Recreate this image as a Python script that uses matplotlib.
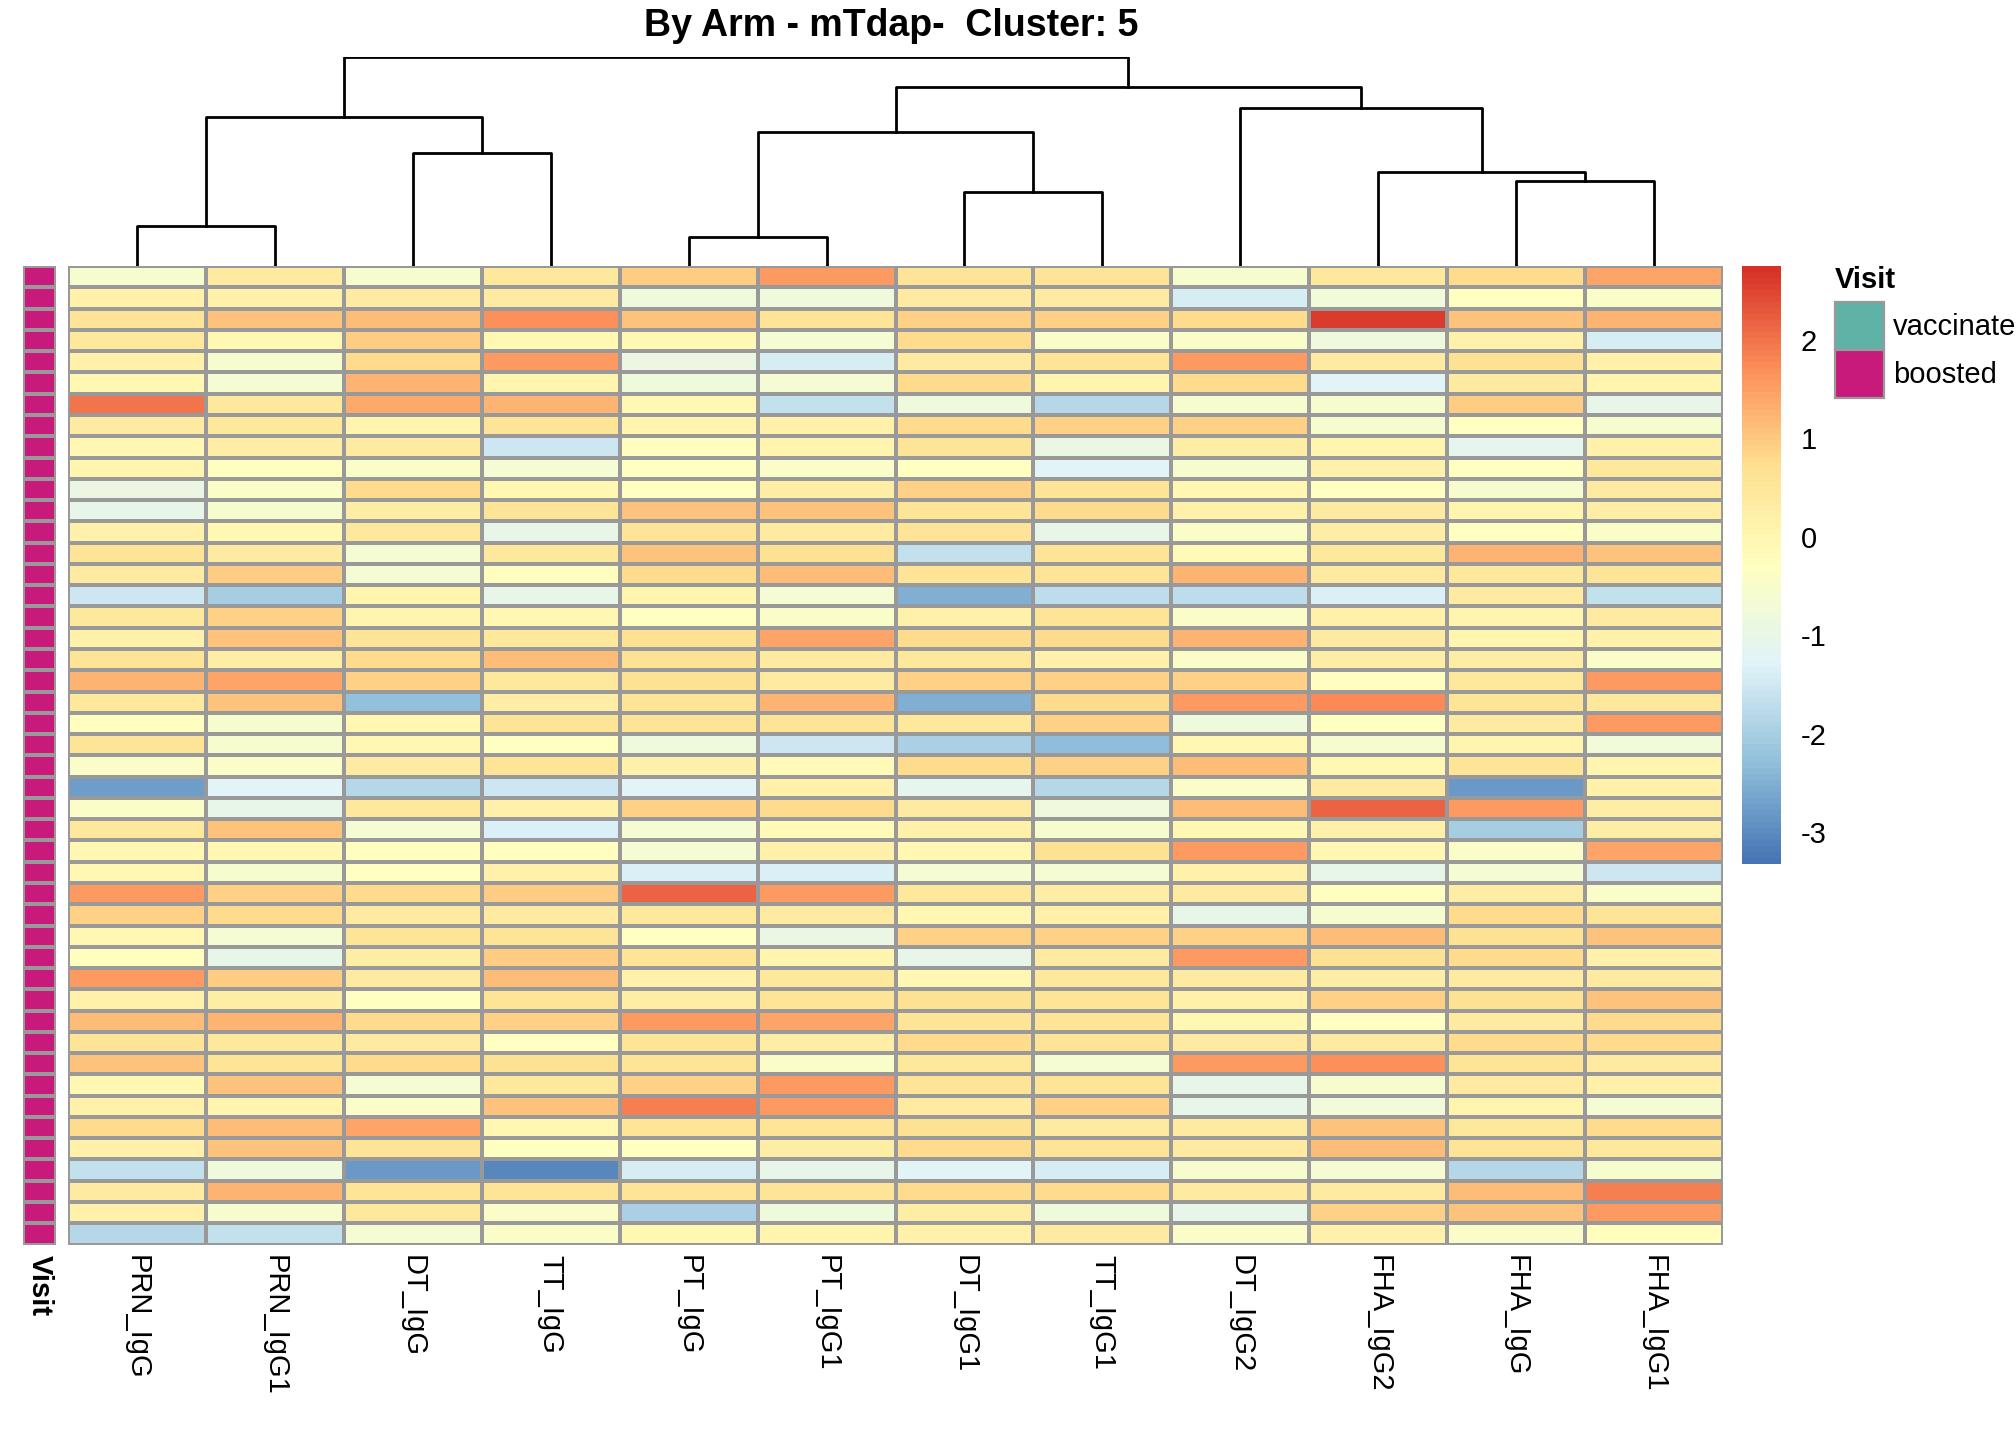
import numpy as np
import matplotlib
matplotlib.use('Agg')
import matplotlib.pyplot as plt
from matplotlib.colors import LinearSegmentedColormap, Normalize

plt.rcParams['font.family'] = ['Liberation Sans', 'DejaVu Sans']

columns = ['PRN_IgG', 'PRN_IgG1', 'DT_IgG', 'TT_IgG', 'PT_IgG', 'PT_IgG1',
           'DT_IgG1', 'TT_IgG1', 'DT_IgG2', 'FHA_IgG2', 'FHA_IgG', 'FHA_IgG1']

values = np.array([
    [-0.5, 0.4, -0.5, 0.5, 1.0, 1.6, 0.6, 0.6, -0.5, 0.5, 0.8, 1.5],
    [0.2, 0.2, 0.4, 0.4, -0.8, -0.8, 0.4, 0.4, -1.4, -0.7, -0.3, -0.4],
    [0.6, 1.1, 1.2, 1.7, 1.1, 0.6, 0.9, 0.9, 0.8, 2.6, 1.1, 1.3],
    [0.5, 0.0, 1.0, 0.0, 0.0, -0.6, 0.8, -0.4, -0.4, -0.8, 0.2, -1.4],
    [0.2, -0.5, 0.8, 1.6, -0.9, -1.4, 0.4, 0.6, 1.6, 0.4, 0.7, 0.2],
    [0.0, -0.6, 1.3, 0.1, -0.8, -0.6, 0.8, 0.1, 0.8, -1.2, 0.4, 0.1],
    [2.0, 0.5, 1.4, 1.3, 0.0, -1.6, -0.8, -1.8, -0.5, -0.5, 1.0, -1.0],
    [0.4, 0.5, 0.1, 0.6, 0.1, 0.2, 0.8, 0.9, 0.9, -0.5, -0.3, -0.5],
    [0.0, 0.3, 0.4, -1.5, -0.2, 0.1, 0.6, -0.9, 0.3, 0.1, -1.1, 0.2],
    [0.1, -0.2, -0.4, -0.6, -0.3, -0.4, -0.3, -1.2, -0.5, 0.2, -0.3, 0.5],
    [-0.9, -0.4, 0.8, 0.0, -0.3, 0.3, 0.9, 0.6, 0.0, -0.3, -0.5, 0.4],
    [-1.0, -0.5, 0.3, 0.6, 1.1, 1.1, 0.6, 0.8, 0.2, 0.4, 0.1, 0.3],
    [0.2, 0.0, 0.5, -1.0, 0.6, 0.4, 0.6, -1.0, -0.4, 0.3, -0.3, -0.4],
    [0.6, 0.4, -0.6, 0.5, 1.1, 0.7, -1.6, 0.6, -0.1, 0.5, 1.3, 1.1],
    [0.4, 1.0, -0.6, -0.2, 0.8, 1.2, 0.6, 0.6, 1.3, 0.4, 0.5, 0.6],
    [-1.5, -2.0, 0.1, -1.0, 0.1, -0.6, -2.5, -1.7, -1.7, -1.3, 0.4, -1.6],
    [0.5, 0.9, 0.1, 0.0, -0.3, -0.4, 0.2, 0.6, -0.4, 0.2, 0.1, 0.4],
    [0.2, 1.1, 0.6, 0.5, 0.7, 1.5, 0.8, 0.8, 1.3, 0.4, 0.1, 0.2],
    [0.6, 0.3, 0.8, 1.2, 0.7, 0.4, 0.5, 0.2, -0.4, 0.3, 0.3, -0.4],
    [1.3, 1.5, 0.9, 0.5, 0.7, 0.4, 0.9, 0.9, 0.9, -0.2, 0.5, 1.6],
    [0.5, 1.1, -2.2, 0.3, 0.6, 1.3, -2.5, 0.8, 1.6, 1.8, 0.6, 0.5],
    [-0.2, -0.5, 0.0, 0.6, 0.6, 0.6, 0.5, 0.9, -0.8, -0.3, 0.4, 1.6],
    [0.6, -0.5, 0.0, -0.3, -0.8, -1.5, -1.9, -2.3, 0.0, -0.5, 0.1, -0.7],
    [-0.4, -0.4, 0.4, 0.6, 0.2, -0.1, 0.8, 0.9, 1.2, 0.0, 0.6, 0.1],
    [-2.7, -1.2, -1.8, -1.5, -1.2, 0.2, -1.1, -1.8, -0.4, 0.4, -2.8, 0.2],
    [-0.4, -1.0, 0.5, 0.2, 0.9, 0.8, 0.4, -0.8, 1.2, 2.2, 1.6, 0.3],
    [0.5, 1.1, -0.6, -1.3, -0.6, -0.1, 0.2, -0.5, 0.0, 0.2, -2.0, 0.3],
    [0.0, 0.0, -0.2, -0.2, -0.6, 0.2, 0.0, 0.7, 1.6, 0.0, -0.4, 1.5],
    [0.0, -0.5, -0.3, 0.2, -1.3, -1.3, -0.6, -0.6, 0.2, -1.0, -0.6, -1.5],
    [1.6, 0.9, 0.8, 1.0, 2.2, 1.6, 0.5, 0.3, 0.4, -0.2, 0.3, -0.4],
    [0.9, 0.8, 0.4, 0.4, 0.5, 0.4, 0.0, 0.2, -1.0, -0.5, 0.8, 0.6],
    [0.0, -0.6, 0.6, 0.6, -0.3, -0.9, 0.9, 0.9, 0.9, 1.2, 0.7, 1.1],
    [-0.2, -1.0, 0.3, 1.0, 0.6, 0.1, -1.0, 0.4, 1.6, 0.7, 0.8, 0.2],
    [1.6, 1.0, 0.4, 1.2, 0.2, 0.5, 0.0, 0.5, 0.4, 0.3, 0.4, 0.4],
    [0.2, 0.3, -0.3, 0.6, 0.3, 0.6, 0.7, 0.6, 0.2, 0.9, 0.7, 1.1],
    [1.2, 1.3, 0.8, 0.9, 1.6, 1.5, 0.6, 0.6, 0.0, -0.3, 0.4, 0.8],
    [0.6, 0.5, 0.4, -0.3, 0.6, 0.3, 0.8, 0.6, 0.4, 0.4, 0.8, 0.8],
    [1.1, 0.6, 0.8, 0.7, 0.6, -0.4, 0.5, -0.6, 1.6, 1.7, 0.6, 0.4],
    [0.0, 1.1, -0.6, 0.5, 0.9, 1.6, 0.6, 0.6, -1.0, -0.5, 0.4, 0.2],
    [0.2, 0.1, -0.4, 1.1, 1.9, 1.6, 0.4, 0.9, -1.0, -0.7, 0.1, -0.6],
    [0.8, 1.2, 1.5, 0.0, 0.6, 0.6, 0.7, 0.4, 0.4, 1.1, 0.5, 0.8],
    [0.2, 1.1, 0.6, -0.3, -0.3, 0.3, 0.8, 0.6, 0.4, 1.2, 0.6, 0.5],
    [-1.6, -0.8, -2.8, -3.0, -1.4, -1.0, -1.2, -1.4, -0.5, -0.6, -1.8, -0.5],
    [0.4, 1.3, 0.6, 0.6, 0.6, 0.6, 0.8, 0.8, 0.4, 0.4, 1.2, 1.9],
    [0.2, -0.5, 0.5, -0.4, -1.9, -0.8, 0.3, -0.8, -1.0, 0.9, 1.1, 1.6],
    [-1.8, -1.6, -0.6, -0.4, 0.0, 0.1, 0.2, 0.4, -0.4, 0.2, -0.4, -0.2],
])

# column merges: (left, right, height); ids >= 12 refer to earlier merges
merges = [(0, 1, 31), (2, 3, 88), (12, 13, 116),
          (4, 5, 23), (6, 7, 58), (15, 16, 104),
          (10, 11, 66), (9, 18, 73), (8, 19, 123),
          (17, 20, 139), (14, 21, 163)]

visit_levels = ['vaccinated', 'boosted']
visit_colors = ['#5FB3A6', '#C71A7A']

cmap = LinearSegmentedColormap.from_list('rdylbu', ['#4575B4', '#91BFDB', '#E0F3F8', '#FFFFBF',
                                                    '#FEE090', '#FC8D59', '#D73027'], N=100)
vmin, vmax = -3.29, 2.78
norm = Normalize(vmin, vmax)
nrow, ncol = values.shape

H = 1120.0
fig = plt.figure(figsize=(20.16, 14.4), dpi=100)
L, R = 0.0338, 0.8546
B, T = 1 - 968 / H, 1 - 207 / H

ax = fig.add_axes([L, B, R - L, T - B])
ax.pcolormesh(values, cmap=cmap, norm=norm, edgecolors='#999999', linewidth=1.6)
ax.set_xlim(0, ncol)
ax.set_ylim(nrow, 0)
ax.axis('off')
for j, c in enumerate(columns):
    ax.text(j + 0.5, nrow + 0.5, c, rotation=270, ha='center', va='top', fontsize=21)

# annotation bar
aa = fig.add_axes([0.0115, B, 0.028 - 0.0115, T - B])
aa.pcolormesh(np.ones((nrow, 1)), cmap=LinearSegmentedColormap.from_list('v', visit_colors),
              vmin=0, vmax=1, edgecolors='#999999', linewidth=1.6)
aa.set_xlim(0, 1)
aa.set_ylim(nrow, 0)
aa.axis('off')
aa.text(0.5, nrow + 0.5, 'Visit', rotation=270, ha='center', va='top', fontsize=21, fontweight='bold')

# dendrogram
ad = fig.add_axes([L, T, R - L, (207 - 44) / H])
pos = {i: i + 0.5 for i in range(ncol)}
hgt = {i: 0 for i in range(ncol)}
for k, (a, b, h) in enumerate(merges):
    ad.plot([pos[a], pos[a], pos[b], pos[b]], [hgt[a], h, h, hgt[b]], color='black', lw=2)
    pos[ncol + k] = (pos[a] + pos[b]) / 2
    hgt[ncol + k] = h
ad.set_xlim(0, ncol)
ad.set_ylim(0, 163)
ad.axis('off')

fig.text((L + R) / 2 - 0.002, 1 - 20 / H, 'By Arm - mTdap-  Cluster: 5', ha='center', va='center',
         fontsize=27, fontweight='bold')

# colorbar
cax = fig.add_axes([0.864, 1 - 672 / H, 0.0195, (672 - 207) / H])
grad = np.linspace(vmin, vmax, 100).reshape(-1, 1)
cax.pcolormesh([0, 1], np.linspace(vmin, vmax, 101), grad, cmap=cmap, norm=norm)
cax.set_xlim(0, 1)
cax.set_ylim(vmin, vmax)
cax.axis('off')
for v in [2, 1, 0, -1, -2, -3]:
    cax.text(1.5, v, str(v), va='center', ha='left', fontsize=21)

# visit legend
fig.text(0.910, 1 - 218 / H, 'Visit', fontsize=21, fontweight='bold', va='center')
for i, (lab, col) in enumerate(zip(visit_levels, visit_colors)):
    y0 = 1 - (272 + 37.5 * i) / H
    fig.patches.append(plt.Rectangle((0.910, y0), 0.0245, 37 / H, transform=fig.transFigure,
                                     facecolor=col, edgecolor='#999999', lw=1.6))
    fig.text(0.939, y0 + 18 / H, lab, fontsize=21, va='center')

fig.savefig('out.png')
